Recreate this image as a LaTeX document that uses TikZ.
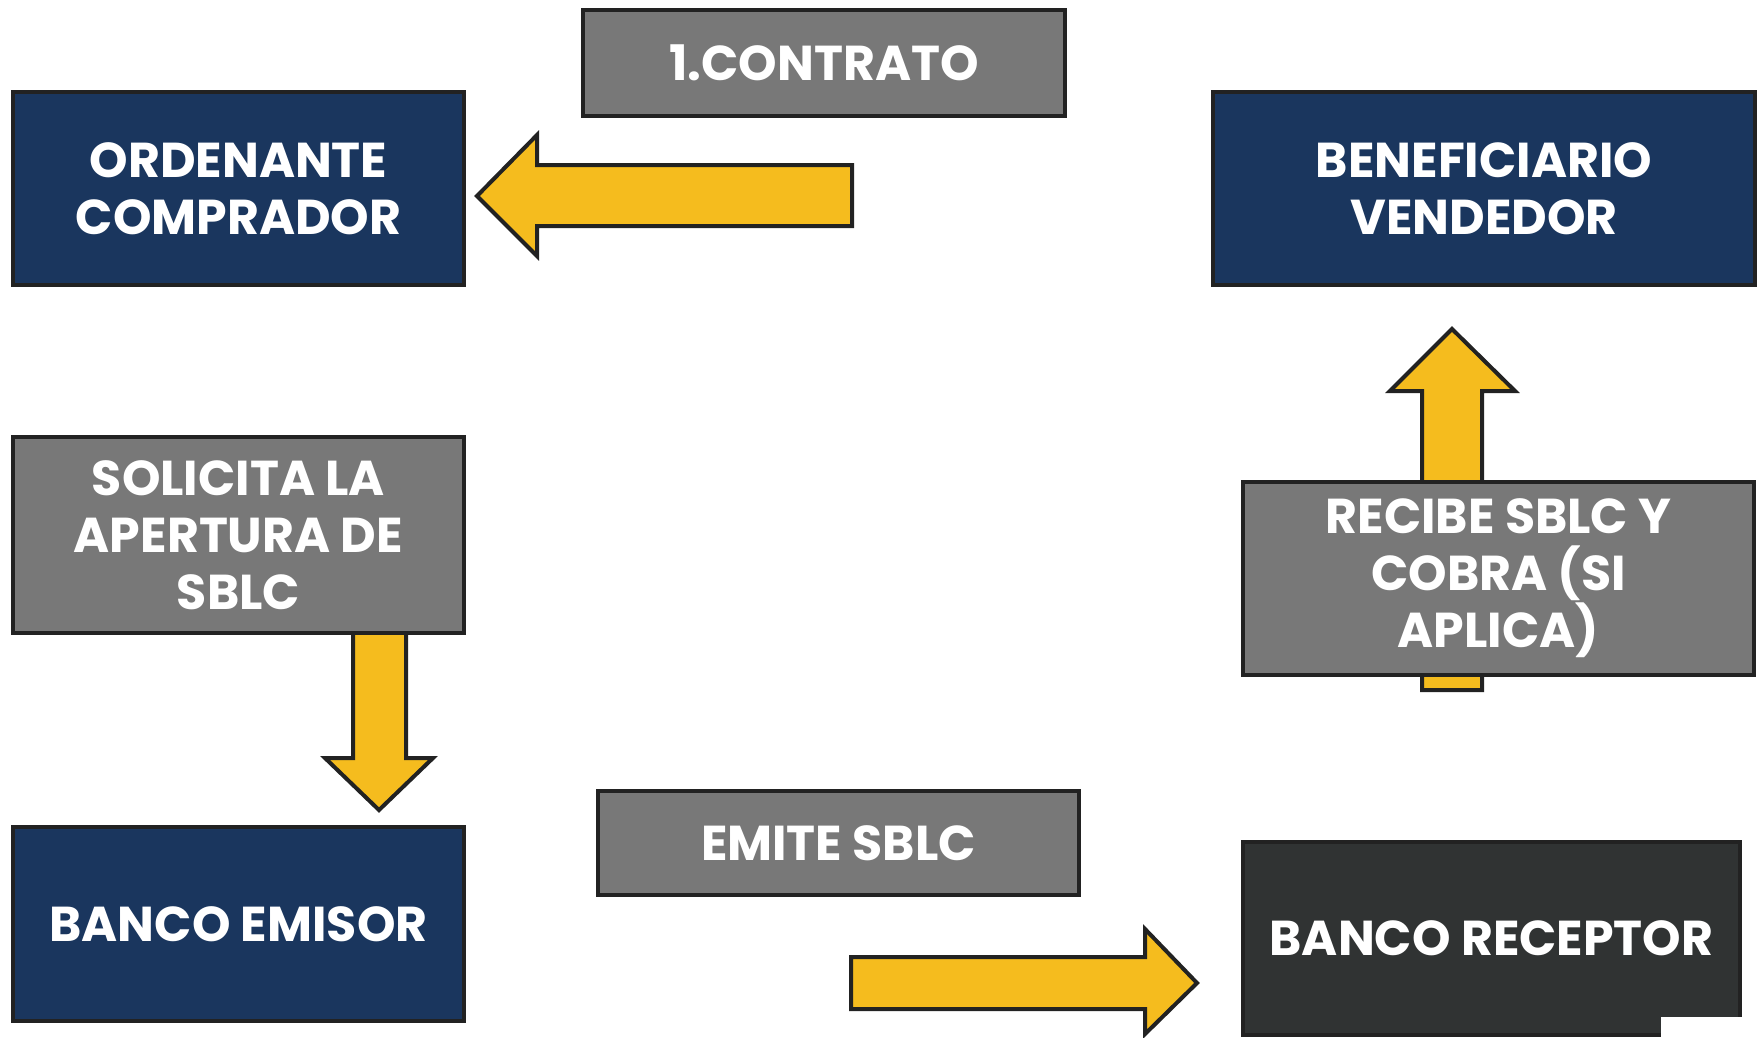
\documentclass[tikz,border=0pt]{standalone}
\usepackage{fontspec}
\setmainfont{Poppins}
\definecolor{navy}{HTML}{1A365E}
\definecolor{slate}{HTML}{787878}
\definecolor{coal}{HTML}{303333}
\definecolor{amber}{HTML}{F5BC1E}
\definecolor{edge}{HTML}{222222}
\begin{document}
\begin{tikzpicture}[x=1pt,y=-1pt,
  box/.style={draw=edge, line width=4pt, inner sep=0pt, text=white, align=center,
    anchor=north west, font=\bfseries\fontsize{49}{57}\selectfont},
  blockarrow/.style={draw=edge, fill=amber, line width=4pt, line join=miter}]
\fill[white] (0,0) rectangle (1763,1037);
\useasboundingbox (0,0) rectangle (1763,1037);

% block arrows, drawn first so the label boxes sit on top of them
\draw[blockarrow] (852,165) -- (537,165) -- (537,135) -- (477,196) -- (537,256)
  -- (537,226) -- (852,226) -- cycle;
\draw[blockarrow] (1422,690) -- (1422,391) -- (1390,391) -- (1452,329) -- (1515,391)
  -- (1482,391) -- (1482,690) -- cycle;
\draw[blockarrow] (353,625) -- (353,758) -- (325,758) -- (379,810) -- (433,758)
  -- (406,758) -- (406,625) -- cycle;
\draw[blockarrow] (851,957) -- (1145,957) -- (1145,929) -- (1197,983) -- (1145,1034)
  -- (1145,1009) -- (851,1009) -- cycle;

% parties and banks
\node[box, fill=navy, minimum width=451pt, minimum height=193pt] (ord) at (11,90)
  {ORDENANTE\\COMPRADOR};
\node[box, fill=navy, minimum width=542pt, minimum height=193pt] (ben) at (1211,90)
  {BENEFICIARIO\\VENDEDOR};
\node[box, fill=navy, minimum width=451pt, minimum height=194pt] (emi) at (11,825)
  {BANCO EMISOR};
\node[box, fill=coal, minimum width=497pt, minimum height=193pt] (rec) at (1241,840)
  {BANCO RECEPTOR};

% steps
\node[box, fill=slate, minimum width=482pt, minimum height=106pt] (contrato) at (581,8)
  {1.CONTRATO};
\node[box, fill=slate, minimum width=451pt, minimum height=196pt] (solicita) at (11,435)
  {SOLICITA LA\\APERTURA DE\\SBLC};
\node[box, fill=slate, minimum width=481pt, minimum height=104pt] (emite) at (596,789)
  {EMITE SBLC};
\node[box, fill=slate, minimum width=511pt, minimum height=193pt] (recibe) at (1241,480)
  {RECIBE SBLC Y\\COBRA (SI\\APLICA)};

% blank patch over the lower right corner of the receiving bank
\fill[white] (1661,1017) rectangle (1744,1037);
\end{tikzpicture}
\end{document}
